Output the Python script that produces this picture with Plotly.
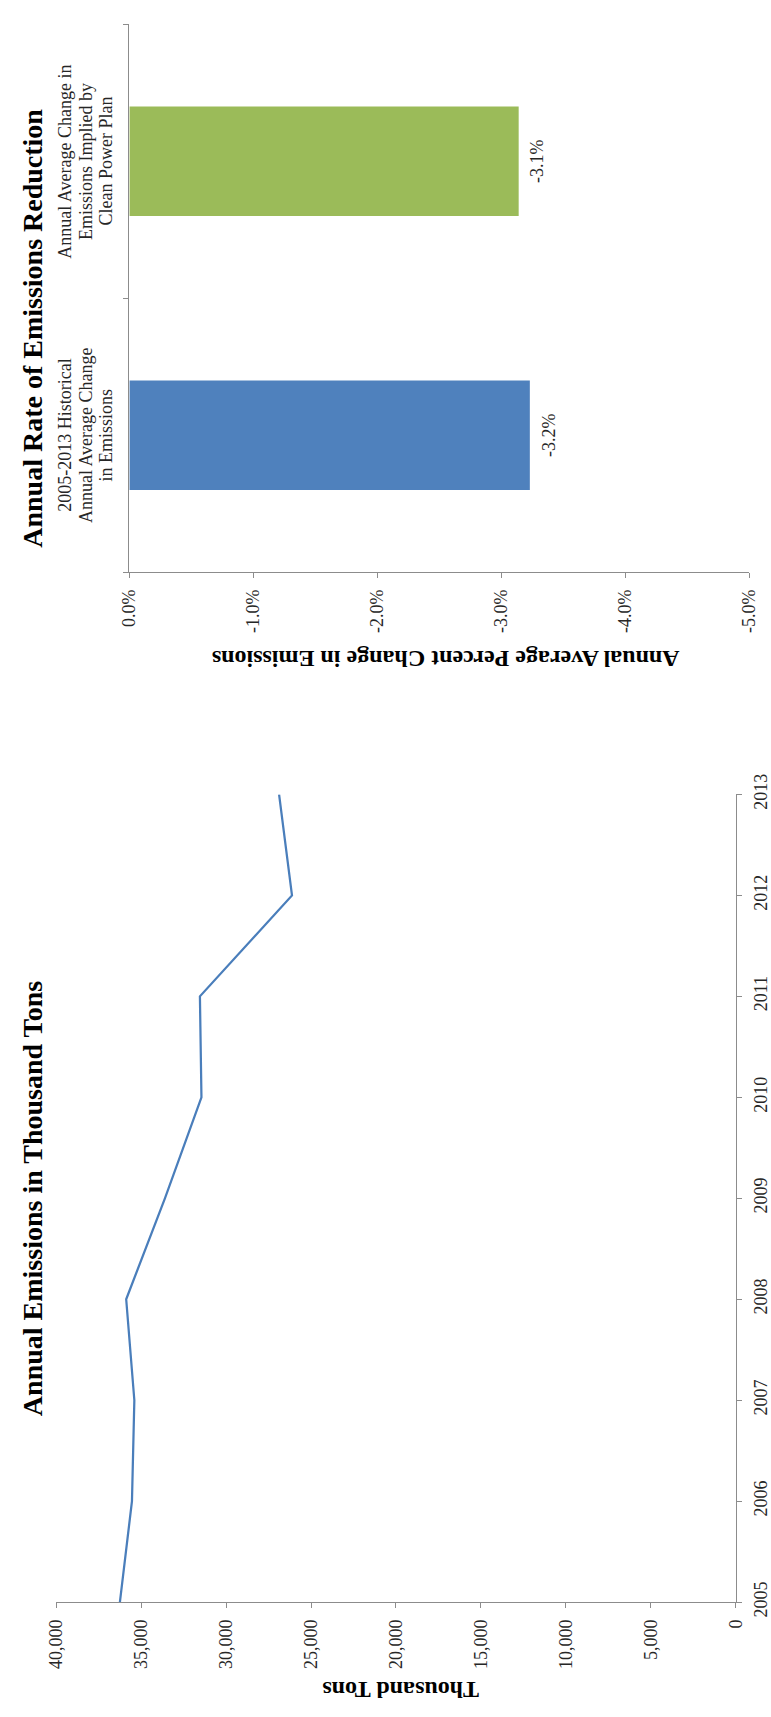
import plotly.graph_objects as go

W, H = 771, 1717

# ---------------- data ----------------
years = [2005, 2006, 2007, 2008, 2009, 2010, 2011, 2012, 2013]
emissions = [36250, 35540, 35400, 35880, 33600, 31450, 31540, 26120, 26880]
ton_ticks = [0, 5000, 10000, 15000, 20000, 25000, 30000, 35000, 40000]

bar_categories = [
    "2005-2013 Historical Annual Average Change in Emissions",
    "Annual Average Change in Emissions Implied by Clean Power Plan",
]
bar_label_lines = [
    ["2005-2013 Historical", "Annual Average Change", "in Emissions"],
    ["Annual Average Change in", "Emissions Implied by", "Clean Power Plan"],
]
bar_values = [-3.23, -3.14]
bar_colors = ["#4f81bd", "#9bbb59"]
pct_ticks = [0, -1, -2, -3, -4, -5]

title_bar = "Annual Rate of Emissions Reduction"
title_line = "Annual Emissions in Thousand Tons"
xtitle_bar = "Annual Average Percent Change in Emissions"
xtitle_line = "Thousand Tons"

# ---------------- style ----------------
SERIF = "Liberation Serif, Times New Roman, serif"
AX = "#8c8c8c"
TICKC = "#262626"
TICKF = dict(family=SERIF, size=18, color=TICKC)


def px(x):
    return x / W


def py(y):
    return 1 - y / H


fig = go.Figure()

fig.add_trace(go.Bar(
    y=bar_categories, x=bar_values, orientation="h",
    marker=dict(color=bar_colors, line=dict(width=0)),
    width=0.4, hoverinfo="skip",
    xaxis="x", yaxis="y", showlegend=False,
))

fig.add_trace(go.Scatter(
    x=emissions, y=years, mode="lines",
    line=dict(color="#4a7ebb", width=2.25), hoverinfo="skip",
    xaxis="x2", yaxis="y2", showlegend=False,
))

axis_common = dict(showgrid=False, zeroline=False, showline=True, linecolor=AX,
                   linewidth=1.3, ticks="outside", ticklen=5, tickcolor=AX,
                   tickwidth=1.3, tickfont=TICKF)

fig.update_layout(
    width=W, height=H, margin=dict(l=0, r=0, t=0, b=0),
    paper_bgcolor="white", plot_bgcolor="white",
    bargap=0.6,
    xaxis=dict(domain=[px(122.7), px(760)], anchor="y", range=[0, -5],
               tickvals=pct_ticks, ticktext=[f"{v:.1f}%" for v in pct_ticks],
               tickangle=-90, ticklabelstandoff=4, **axis_common),
    yaxis=dict(domain=[py(563), py(3.3)], anchor="x", type="category",
               categoryorder="array", categoryarray=bar_categories,
               showticklabels=False, tickson="boundaries",
               **{k: v for k, v in axis_common.items() if k != "tickfont"}),
    xaxis2=dict(domain=[px(47.5), px(746)], anchor="y2", range=[40000, 0],
                tickvals=ton_ticks, ticktext=[f"{v:,}" for v in ton_ticks],
                tickangle=-90, ticklabelstandoff=4, **axis_common),
    yaxis2=dict(domain=[py(1615), py(790)], anchor="x2", side="right",
                range=[2005, 2013], tickvals=years,
                ticktext=[str(y) for y in years], tickangle=-90,
                ticklabelstandoff=4, **axis_common),
)

ann = []
# main titles (rotated)
ann.append(dict(text=title_bar, xref="paper", yref="paper", x=px(23), y=py(314),
                textangle=-90, showarrow=False, xanchor="center", yanchor="middle",
                font=dict(family=SERIF, size=28, color="black", weight="bold")))
ann.append(dict(text=title_line, xref="paper", yref="paper", x=px(23), y=py(1203),
                textangle=-90, showarrow=False, xanchor="center", yanchor="middle",
                font=dict(family=SERIF, size=28, color="black", weight="bold")))
# axis titles (upside down)
ann.append(dict(text=xtitle_bar, xref="paper", yref="paper", x=px(448), y=py(651),
                textangle=180, showarrow=False, xanchor="center", yanchor="middle",
                font=dict(family=SERIF, size=24, color="black", weight="bold")))
ann.append(dict(text=xtitle_line, xref="paper", yref="paper", x=px(402), y=py(1704),
                textangle=180, showarrow=False, xanchor="center", yanchor="middle",
                font=dict(family=SERIF, size=24, color="black", weight="bold")))
# category labels, one annotation per line
line_x = [57, 78, 99]
for cat, lines in zip(bar_categories, bar_label_lines):
    for lx, t in zip(line_x, lines):
        ann.append(dict(text=t, xref="paper", yref="y", x=px(lx), y=cat,
                        textangle=-90, showarrow=False, xanchor="center",
                        yanchor="middle",
                        font=dict(family=SERIF, size=18, color=TICKC)))
# bar value labels beyond bar ends
for cat, v in zip(bar_categories, bar_values):
    ann.append(dict(text=f"{v:.1f}%", xref="x", yref="y", x=v, y=cat,
                    xshift=19, textangle=-90, showarrow=False,
                    xanchor="center", yanchor="middle",
                    font=dict(family=SERIF, size=18, color=TICKC)))

fig.update_layout(annotations=ann)

fig.write_html("out.html",
               config={"displayModeBar": False},
               post_script="document.body.style.margin='0';"
                           "document.body.style.overflow='hidden';")
